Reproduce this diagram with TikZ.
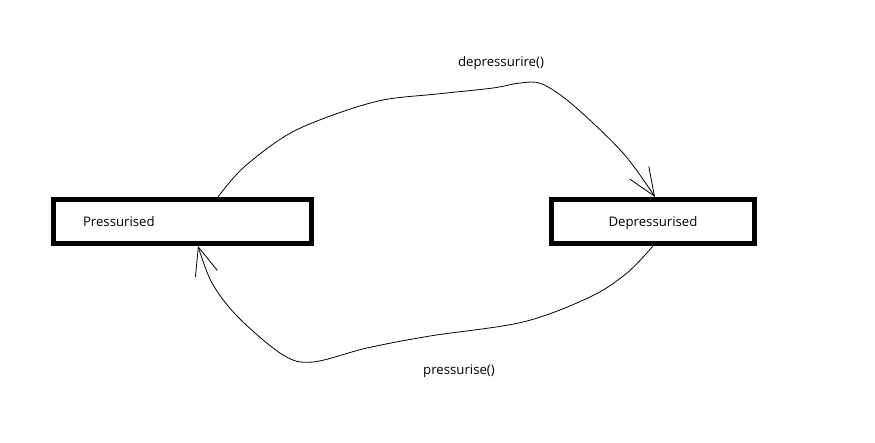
\documentclass[tikz,border=0pt]{standalone}
\usepackage{fontspec}
\setmainfont{Open Sans}
\usetikzlibrary{arrows.meta}
\usetikzlibrary{positioning}

\begin{document}
\begin{tikzpicture}[x=1pt,y=-1pt,>={Straight Barb[length=28pt,width=23pt]},
		state/.style={draw,line width=5pt,minimum height=44pt,text depth=0pt,font=\fontsize{13.2}{15}\selectfont},
		trans/.style={->,line width=0.8pt},
		lbl/.style={font=\fontsize{13.2}{15}\selectfont}]
	\useasboundingbox (0,0) rectangle (875,443);
	\node[state,minimum width=258pt,text width=199pt,inner xsep=29.5pt,align=left](pres) at (182.5,221.5){Pressurised};
	\node[state,minimum width=203pt,right=235pt of pres](dep){Depressurised};
	\node[lbl](lbltop) at (501,63){depressurire()};
	\node[lbl](lblbot) at (459,371){pressurise()};
	% depressurise: top arc
	\draw[trans] plot[smooth,tension=0.55] coordinates {([xshift=35.5pt]pres.north) (243,168) (287,135) (333,115) (383,100) (437,94) (493,88) (520,83) (542,84) (573,105) (623,153) ([xshift=2pt]dep.north)};
	% pressurise: bottom arc
	\draw[trans] plot[smooth,tension=0.55] coordinates {(dep.south) (627,273) (590,297) (523,322) (430,336) (367,348) (313,362) (283,355) (238,317) (212,283) ([xshift=15.5pt]pres.south)};
\end{tikzpicture}
\end{document}
